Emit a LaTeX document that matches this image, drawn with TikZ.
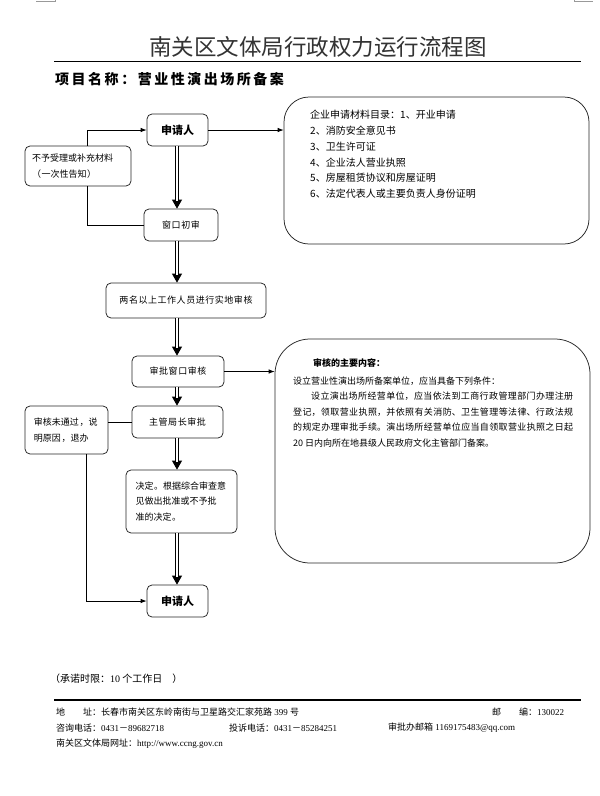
\documentclass[tikz,border=0pt]{standalone}
\usepackage{fontspec}
\setmainfont{Liberation Serif}
\newfontfamily\cjk{Noto Sans CJK SC}
\newfontfamily\cjkls{Noto Sans CJK SC}[LetterSpace=18]
\newfontfamily\cjkbox{Noto Sans CJK SC}[LetterSpace=6]
\usetikzlibrary{arrows.meta}
\XeTeXlinebreaklocale "zh"
\XeTeXlinebreakskip=0pt plus 1pt
\newcommand\tnr[1]{{\rmfamily #1}}
\newcommand\dblarrow[2]{\draw[dbltip] #1 -- #2; \draw[dblline] #1 -- #2;}
\begin{document}
\begin{tikzpicture}[x=1pt,y=-1pt,
  box/.style={draw=black!85, line width=0.75pt, rounded corners=5pt, font=\cjkbox\fontsize{9}{15.5}\selectfont, align=center, inner sep=2pt},
  boldbox/.style={box, font=\cjk\bfseries\fontsize{11}{13}\selectfont},
  bigbox/.style={draw=black!85, line width=0.75pt},
  arr/.style={line width=0.75pt, -{Latex[length=6pt,width=4.5pt]}},
  link/.style={line width=0.75pt},
  dbltip/.style={line width=0.75pt, -{Triangle[length=9pt,width=10pt]}},
  dblline/.style={double=white, double distance=2.2pt, line width=0.75pt, shorten >=7.5pt},
  txt/.style={font=\cjk\fontsize{9}{11}\selectfont, inner sep=0pt, anchor=west},
  foot/.style={font=\cjk\fontsize{9}{11}\selectfont, inner sep=0pt, anchor=west}
]
\fill[white] (0,0) rectangle (600,796);
\useasboundingbox (0,0) rectangle (600,796);

% corner marks
\draw[black!40, line width=0.6pt] (36,1.5) -- (55,1.5) -- (55,0);
\draw[black!40, line width=0.6pt] (574,0) -- (574,1.5) -- (593,1.5);

% title
\node[font=\cjk\fontsize{22.5}{24}\selectfont, text=black!80, inner sep=0pt] (title) at (318,47) {南关区文体局行政权力运行流程图};
\draw[line width=0.8pt] (54,61.5) -- (581,61.5);
\node[font=\cjkls\bfseries\fontsize{14}{16}\selectfont, inner sep=0pt, anchor=west] (proj) at (55,79) {项目名称：营业性演出场所备案};

% column coordinates
\coordinate (col) at (177,0);
\coordinate (c1) at (87,0);
\coordinate (c2) at (86,0);

% boxes
\node[boldbox, minimum width=61pt, minimum height=32pt] (app1) at (177.5,130) {申请人};
\node[box, minimum width=106pt, minimum height=40pt, text width=92pt, align=left] (rej1) at (78,166) {不予受理或补充材料\\（一次性告知）};
\node[box, minimum width=74pt, minimum height=32pt] (win) at (181,225) {窗口初审};
\node[box, minimum width=160pt, minimum height=35pt] (site) at (186,300.5) {两名以上工作人员进行实地审核};
\node[box, minimum width=92pt, minimum height=31pt] (shen) at (178,371.5) {审批窗口审核};
\node[box, minimum width=91pt, minimum height=32pt] (zg) at (177.5,422) {主管局长审批};
\node[box, minimum width=83pt, minimum height=48pt, text width=65pt, align=left] (rej2) at (66.5,430) {审核未通过，说\\明原因，退办};
\node[box, minimum width=111pt, minimum height=63pt, text width=92pt, align=left] (dec) at (181.5,501.5) {决定。根据综合审查意\\见做出批准或不予批\\准的决定。};
\node[boldbox, minimum width=61pt, minimum height=32pt] (app2) at (177.5,601) {申请人};

% big boxes
\node[bigbox, rounded corners=25pt, minimum width=305pt, minimum height=147pt] (big1) at (436.5,170.5) {};
\node[bigbox, rounded corners=35pt, minimum width=315pt, minimum height=224pt] (big2) at (432.5,451) {};

\foreach \t [count=\i from 0] in {企业申请材料目录：1、开业申请, 2、消防安全意见书, 3、卫生许可证, 4、企业法人营业执照, 5、房屋租赁协议和房屋证明, 6、法定代表人或主要负责人身份证明}
  \node[txt, font=\cjk\fontsize{10}{12}\selectfont] (m\i) at (310,{115+15.8*\i}) {\t};

\node[txt, font=\cjk\bfseries\fontsize{9}{11}\selectfont] (h2) at (313,363) {审核的主要内容：};
\node[txt] (cond) at (293,381) {设立营业性演出场所备案单位，应当具备下列条件：};
\node[font=\cjk\fontsize{9}{15.7}\selectfont, text width=280pt, align=justify, inner sep=0pt, anchor=north west] (para) at (293,391.5)
 {\hspace*{2em}设立演出场所经营单位，应当依法到工商行政管理部门办理注册\linebreak
  登记，领取营业执照，并依照有关消防、卫生管理等法律、行政法规\linebreak
  的规定办理审批手续。演出场所经营单位应当自领取营业执照之日起\linebreak
  20 日内向所在地县级人民政府文化主管部门备案。};

% connectors
\draw[arr] (app1.east) -- (app1.east -| big1.west);
\draw[arr] (c1 |- rej1.north) -- (c1 |- app1.west) -- (app1.west);
\draw[link] (win.west) -- (c1 |- win.west) -- (c1 |- rej1.south);
\dblarrow{(app1.south -| col)}{(win.north -| col)}
\dblarrow{(win.south -| col)}{(site.north -| col)}
\dblarrow{(site.south -| col)}{(shen.north -| col)}
\draw[arr] (shen.east) -- (shen.east -| big2.west);
\dblarrow{(shen.south -| col)}{(zg.north -| col)}
\draw[link] (zg.west -| rej2.east) -- (zg.west);
\dblarrow{(zg.south -| col)}{(dec.north -| col)}
\dblarrow{(dec.south -| col)}{(app2.north -| col)}
\draw[arr] (c2 |- rej2.south) -- (c2 |- app2.west) -- (app2.west);

% footer
\node[foot, font=\cjk\fontsize{10}{12}\selectfont] (promise) at (50,679) {（承诺时限：\tnr{10} 个工作日　）};
\draw[line width=2.2pt] (54,700) -- (581,700);
\node[foot] (addr) at (56,712) {地　　址：长春市南关区东岭南街与卫星路交汇家苑路\tnr{ 399 }号};
\node[foot] (zip) at (492,712) {邮　　编：\tnr{130022}};
\node[foot] (tel1) at (56,728) {咨询电话：\tnr{0431}－\tnr{89682718}};
\node[foot] (tel2) at (229,728) {投诉电话：\tnr{0431}－\tnr{85284251}};
\node[foot] (mail) at (388,728) {审批办邮箱\tnr{ 1169175483@qq.com}};
\node[foot] (web) at (56,744) {南关区文体局网址：\tnr{http://www.ccng.gov.cn}};
\end{tikzpicture}
\end{document}
